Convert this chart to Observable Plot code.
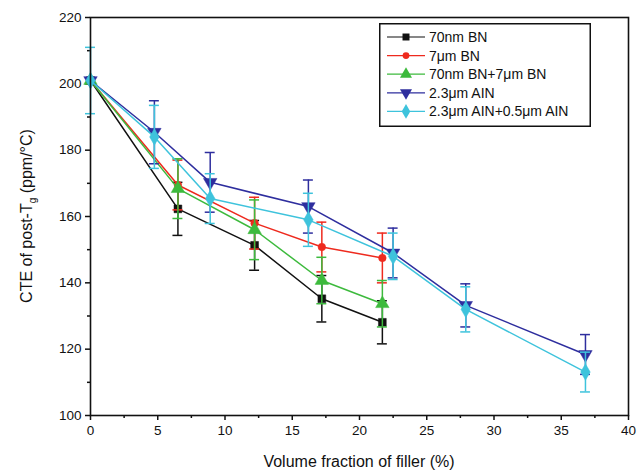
<!DOCTYPE html>
<html>
<head>
<meta charset="utf-8">
<script src="https://cdn.jsdelivr.net/npm/d3@7"></script>
<script src="https://cdn.jsdelivr.net/npm/@observablehq/plot@0.6"></script>
<style>
  html, body { margin: 0; padding: 0; background: #fff; }
  #wrap { position: relative; width: 640px; height: 474px; font-family: "Liberation Sans", Arial, sans-serif; }
  #legend { position: absolute; left: 379px; top: 23px; }
</style>
</head>
<body>
<div id="wrap"></div>
<script>
// ---- data ----
const seriesNames = ["70nm BN", "7\u03bcm BN", "70nm BN+7\u03bcm BN", "2.3\u03bcm AlN", "2.3\u03bcm AlN+0.5\u03bcm AlN"];
const legendLabels = ["70nm BN", "7\u03bcm BN", "70nm BN+7\u03bcm BN", "2.3\u03bcm AIN", "2.3\u03bcm AIN+0.5\u03bcm AIN"];
const seriesColors = ["#111111", "#ee2a1e", "#3dba3d", "#2e2e9e", "#3ec3dc"];

const xBN  = [0, 6.5, 12.2, 17.2, 21.7];
const xAlN = [0, 4.75, 8.9, 16.2, 22.5, 27.9, 36.8];

const bn70      = [201, 162.3, 151.3, 135.2, 128.1];
const bn70Err   = [0, 8, 7.5, 7, 6.5];
const bn7       = [201, 169.5, 158, 150.8, 147.5];
const bn7Err    = [0, 7.5, 7.8, 7.5, 7.5];
const bnMix     = [201, 168.4, 156, 140.7, 133.7];
const bnMixErr  = [0, 9, 9, 7, 7];
const aln23     = [201, 185.4, 170.3, 163, 149, 133.2, 118.4];
const aln23Err  = [0, 9.5, 9, 8, 7.5, 6.5, 6];
const alnMix    = [201, 184, 165.4, 159, 148, 132, 113.1];
const alnMixErr = [10, 9.5, 7.5, 8, 7, 6.8, 6];

const xTicks = [0, 5, 10, 15, 20, 25, 30, 35, 40];
const xMinor = [2.5, 7.5, 12.5, 17.5, 22.5, 27.5, 32.5, 37.5];
const yTicks = [100, 120, 140, 160, 180, 200, 220];
const yMinor = [110, 130, 150, 170, 190, 210];

// ---- build table ----
const triangleDown = {
  draw(ctx, size) {
    const y = -Math.sqrt(size / (Math.sqrt(3) * 3));
    ctx.moveTo(0, -y * 2);
    ctx.lineTo(-Math.sqrt(3) * y, y);
    ctx.lineTo(Math.sqrt(3) * y, y);
    ctx.closePath();
  }
};
const symbols = [d3.symbolSquare, d3.symbolCircle, d3.symbolTriangle, triangleDown, d3.symbolDiamond];
const rs = [4.4, 3.8, 5, 5, 5];

const ys = [bn70, bn7, bnMix, aln23, alnMix];
const errs = [bn70Err, bn7Err, bnMixErr, aln23Err, alnMixErr];
const xs = [xBN, xBN, xBN, xAlN, xAlN];

const data = [];
ys.forEach((arr, s) => arr.forEach((v, i) => data.push({s, name: seriesNames[s], x: xs[s][i], y: v, e: errs[s][i]})));
const capHalf = 0.37;

const marks = [];
for (let s = 0; s < 5; s++) {
  const d = data.filter(p => p.s === s);
  const de = d.filter(p => p.e > 0);
  const c = seriesColors[s];
  marks.push(
    Plot.ruleX(de, {x: "x", y1: p => p.y - p.e, y2: p => p.y + p.e, stroke: c, strokeWidth: 1.5}),
    Plot.ruleY(de, {y: p => p.y - p.e, x1: p => p.x - capHalf, x2: p => p.x + capHalf, stroke: c, strokeWidth: 1.5}),
    Plot.ruleY(de, {y: p => p.y + p.e, x1: p => p.x - capHalf, x2: p => p.x + capHalf, stroke: c, strokeWidth: 1.5}),
    Plot.line(d, {x: "x", y: "y", stroke: c, strokeWidth: 1.5}),
    Plot.dot(d, {x: "x", y: "y", fill: c, stroke: c, strokeWidth: 0.5, symbol: () => symbols[s], r: rs[s]})
  );
}

const chart = Plot.plot({
  width: 640,
  height: 474,
  marginLeft: 90,
  marginRight: 12,
  marginTop: 17,
  marginBottom: 59,
  style: {fontFamily: "'Liberation Sans', Arial, sans-serif", fontSize: "13px", color: "#111", background: "#fff"},
  x: {domain: [0, 40], label: null},
  y: {domain: [100, 220], label: null},
  symbol: {type: "identity"},
  marks: [
    Plot.axisX({ticks: xTicks, tickSize: 5, tickPadding: 5, fontSize: 13.5, strokeWidth: 1.5, stroke: "#111", fill: "#111"}),
    Plot.axisX({ticks: xMinor, tickSize: 3, tickFormat: () => "", strokeWidth: 1.5, stroke: "#111"}),
    Plot.axisY({ticks: yTicks, tickSize: 5, tickPadding: 4, fontSize: 13.5, strokeWidth: 1.5, stroke: "#111", fill: "#111"}),
    Plot.axisY({ticks: yMinor, tickSize: 3, tickFormat: () => "", strokeWidth: 1.5, stroke: "#111"}),
    ...marks,
    Plot.frame({stroke: "#111", strokeWidth: 1.6})
  ]
});

document.getElementById("wrap").appendChild(chart);

// axis titles
const svg = d3.select(chart);
svg.append("text")
  .attr("x", 90 + (640 - 90 - 12) / 2).attr("y", 467)
  .attr("text-anchor", "middle").attr("font-size", 16).attr("fill", "#111")
  .attr("font-family", "'Liberation Sans', Arial, sans-serif")
  .text("Volume fraction of filler (%)");
const yl = svg.append("text")
  .attr("transform", `translate(32,${(17 + 415) / 2}) rotate(-90)`)
  .attr("text-anchor", "middle").attr("font-size", 16).attr("fill", "#111")
  .attr("font-family", "'Liberation Sans', Arial, sans-serif");
yl.append("tspan").text("CTE of post-T");
yl.append("tspan").attr("font-size", 10).attr("dy", 4).text("g");
yl.append("tspan").attr("dy", -4).text(" (ppm/\u00b0C)");

// legend
const lw = 212, lh = 104;
const leg = d3.select("#wrap").append("svg").attr("id", "legend").attr("width", lw).attr("height", lh);
leg.append("rect").attr("x", 0.75).attr("y", 0.75).attr("width", lw - 1.5).attr("height", lh - 1.5)
  .attr("fill", "#fff").attr("stroke", "#111").attr("stroke-width", 1.5);
legendLabels.forEach((lab, i) => {
  const yy = 14 + i * 18.6;
  const g = leg.append("g").attr("transform", `translate(0,${yy})`);
  g.append("line").attr("x1", 8).attr("x2", 46).attr("stroke", seriesColors[i]).attr("stroke-width", 1.2);
  g.append("path").attr("transform", "translate(27,0)")
    .attr("d", d3.symbol(symbols[i], Math.PI * rs[i] * rs[i] * 0.8)())
    .attr("fill", seriesColors[i]);
  g.append("text").attr("x", 50).attr("y", 5).attr("font-size", 14).attr("fill", "#111")
    .attr("font-family", "'Liberation Sans', Arial, sans-serif").text(lab);
});
</script>
</body>
</html>
